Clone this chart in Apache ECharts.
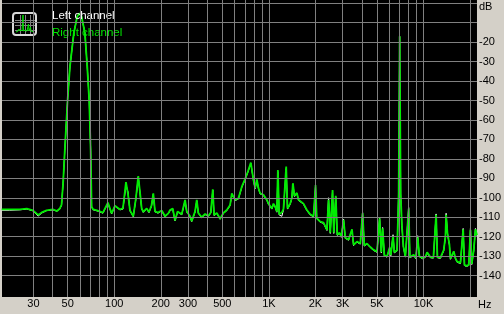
<!DOCTYPE html>
<html><head><meta charset="utf-8">
<script src="https://cdn.jsdelivr.net/npm/echarts@6/dist/echarts.min.js"></script>
<style>html,body{margin:0;padding:0;background:#d4d0c8;}#c{width:504px;height:314px;}</style>
</head><body><div id="c"></div>
<script>
const freqHz = [18.7,21.1,24.5,27.2,29.8,32.2,34.0,36.5,40.1,42.6,44.5,45.6,46.7,47.9,49.9,51.7,54.8,57.6,59.3,61.5,64.6,66.9,68.9,70.4,71.4,73.1,
77.3,84.5,91.0,96.2,101,108.9,113.8,119.1,122.7,126.4,132.8,138.2,143.0,146.7,150.5,154.1,162.1,167.8,174.1,178.9,183.5,191.9,202.8,213.1,223.7,
229.6,238.9,247.2,256.7,273.3,287.1,294.4,309.2,317.1,333.2,341.7,349.9,368.3,386.8,406.3,421.1,433.8,442.3,460.4,483.8,508.2,534.6,561.6,576.0,604.9,635.5,668.5,702.3,731.2,764.6,794.9,815.3,836.2,856.3,878.3,922.6,946.2,970.5,994.0,
1019.5,1045.7,1071.0,1098.4,1126.5,1143.5,1165.8,1213.8,1243.2,1294.2,1319.7,1373.6,1408.8,1430.0,1464.6,1518.0,1554.8,1594.7,1675.2,1762.3,1851.3,1945.0,1980,2003.8,2040,2148.5,2257.5,2374.8,2432.2,2495,2582,2629,2707,2770,2867,2940,
3042,3121,3277,3448,3531,3715,3903,4038,4142,4312,4531,4759,5006,5202,5336,5441,5581,5809,6039,6148,6355,6479,6745,6847,6909,7013,7119,7248,7412,7636,7866,8021,8166,8641,8929,9171,9406,9836,
10287,10551,10806,11084,11590,12066,12303,12866,13515,13862,14006,14280,14714,14934,15688,16090,16504,17336,18049,18402,18959,19620,20125,20519,21135,21680,22180];
const rightDb = [-106,-106,-106,-105.6,-106.5,-108.8,-107.5,-106.5,-106,-106.8,-105.5,-103.7,-92.5,-75.5,-50,-32.6,-15.3,-6.9,-5.2,-6.9,-15.3,-32.6,-50,-75.5,-104.6,-106,
-106.5,-107.6,-102.5,-108,-104.1,-106,-105.5,-92,-98,-106.5,-109.5,-100,-88.8,-97,-105.5,-107.3,-105.5,-107.3,-104,-97.7,-107,-107.6,-106.5,-109.5,-108,
-106.3,-105.5,-111.7,-107,-108.5,-101.1,-107,-109.5,-112,-107,-101.1,-107.8,-110,-108.3,-109.2,-107.6,-95.6,-108.9,-107.8,-110.8,-107.8,-106.3,-103.7,-97.7,-101.1,-100.3,-94.3,-90.3,-86.6,-81.9,-90.8,-95,-90.5,-95,-97.7,-98.5,-97.7,-101,-103,
-103.7,-105.5,-103,-104.5,-107.1,-85.7,-108.5,-107.5,-105.8,-84,-105.5,-103,-100,-92.5,-99,-97.5,-101,-102,-103,-106.3,-108.5,-109.5,-110,-93.5,-110.5,-112.3,-112.8,-116.5,-101,-118,-96,-118,-99,-119,-118,-120,
-111.4,-120.5,-121.5,-116.2,-124.2,-122.5,-123.5,-107.9,-124.5,-123.5,-125.3,-126.8,-127.7,-110.5,-128,-115.7,-129.5,-130.2,-125.5,-129.5,-119.6,-128,-127,-109.7,-97.7,-17,-97.7,-114,-125,-130.2,-130,-105.6,-130.5,-129.3,-131,-120.3,-130,-131,
-130.3,-128,-128.5,-130.5,-130.7,-108.8,-130.5,-130.8,-126.9,-120,-108.8,-118,-124,-131.3,-127.5,-131,-132.8,-133.5,-116.2,-134.5,-135,-134.5,-116.5,-134,-127,-116.2,-119.2];
const leftDb = [-106.4,-106.4,-106.2,-105.8,-106.7,-109.4,-107.8,-106.6,-106.2,-106.9,-105.7,-103.9,-92.5,-75.5,-50,-32.6,-15.3,-6.9,-5.2,-6.9,-15.3,-32.6,-50,-75.5,-104.8,-106.2,
-106.7,-107.9,-102.8,-108.3,-104.3,-106.2,-105.8,-93.5,-97,-106.7,-109.7,-100.5,-89.3,-97.5,-105.7,-107.5,-105.7,-107.6,-104.3,-98.2,-107.2,-107.9,-106.7,-109.8,-108.2,
-106.6,-105.8,-111.9,-107.3,-108.7,-101.5,-107.3,-109.7,-112.2,-107.3,-101.5,-108,-110.2,-108.6,-109.5,-107.9,-96,-109.1,-108,-111,-108,-106.6,-104,-98.2,-101.4,-100.6,-94.6,-90.6,-86.9,-82.3,-91.1,-95.3,-90.8,-95.3,-98,-98.8,-98,-101.3,-103.3,
-104,-105.8,-103.3,-104.8,-107.4,-86.5,-108.8,-109.5,-106.1,-85,-105.8,-103.3,-100.3,-93,-99.3,-97.8,-101.3,-102.3,-103.3,-106.6,-108.8,-109.8,-110.3,-94,-110.8,-112.6,-113.1,-116.8,-100,-118.3,-96.5,-118.3,-99.5,-119.3,-118.3,-120.3,
-111,-120.8,-121.8,-116.5,-124.5,-122.8,-123.8,-107.5,-124.8,-123.8,-125.6,-127.1,-128,-110,-128.3,-115.3,-129.8,-130.5,-125.8,-129.8,-119,-128.3,-127.3,-109,-97,-17,-98,-114.3,-125.3,-130.5,-130.3,-105,-130.8,-129.6,-131.3,-119.5,-130.3,-131.3,
-130.6,-128.3,-128.8,-130.8,-131,-108.3,-130.8,-131.1,-127.2,-120.3,-108,-118.3,-124.3,-131.6,-127.8,-131.3,-133.1,-133.8,-115.8,-134.8,-135.3,-134.8,-115.5,-134.3,-127.3,-115.8,-119.5];

const xTickValues = [30,50,100,200,300,500,1000,2000,3000,5000,10000];
const xTickLabels = ['30','50','100','200','300','500','1K','2K','3K','5K','10K'];
const yTickValues = [-20,-30,-40,-50,-60,-70,-80,-90,-100,-110,-120,-130,-140];
const xGridHz = [30,40,50,60,70,80,90,100,200,300,400,500,600,700,800,900,1000,2000,3000,4000,5000,6000,7000,8000,9000,10000,20000];
const yGridDb = [0,-10,-20,-30,-40,-50,-60,-70,-80,-90,-100,-110,-120,-130,-140];
const seriesNames = ['Left channel','Right channel'];

const FONT = '"Liberation Sans", Arial, sans-serif';
const chart = echarts.init(document.getElementById('c'), null, {renderer:'canvas'});
const pairs = arr => freqHz.map((f,i) => [f, arr[i]]);

chart.setOption({
  animation: false,
  backgroundColor: '#d4d0c8',
  grid: {left: 2, right: 27, top: 0, bottom: 17, show: true, backgroundColor: '#000', borderWidth: 0},
  xAxis: {type: 'log', logBase: 10, min: 18.8, max: 22180,
    axisLine: {show: false}, axisTick: {show: false}, splitLine: {show: false}, minorSplitLine:{show:false},
    axisLabel: {show: true, customValues: xTickValues, margin: 1, color: '#000', fontSize: 11, fontFamily: FONT,
      formatter: v => { const i = xTickValues.findIndex(t => Math.abs(t - v) < 1e-6 * t); return i >= 0 ? xTickLabels[i] : ''; }}},
  yAxis: {type: 'value', position: 'right', min: -151, max: 1.66,
    axisLine: {show: false}, axisTick: {show: false}, splitLine: {show: false},
    axisLabel: {show: true, customValues: yTickValues, margin: 2, color: '#000', fontSize: 11, fontFamily: FONT}},
  legend: {orient: 'vertical', left: 42, top: 5, itemWidth: 0, itemHeight: 0, itemGap: 5, selectedMode: false,
    textStyle: {fontSize: 11.5, fontFamily: FONT},
    data: [{name: seriesNames[0], icon: 'rect', textStyle: {color: '#ffffff'}},
           {name: seriesNames[1], icon: 'rect', textStyle: {color: '#00e600'}}]},
  graphic: [
    {type: 'text', left: 479, top: 1, style: {text: 'dB', fill: '#000', font: '11px ' + FONT}},
    {type: 'text', left: 478, top: 299, style: {text: 'Hz', fill: '#000', font: '11px ' + FONT}},
    {type: 'group', left: 12, top: 12, children: [
      {type: 'rect', shape: {x: 1, y: 1, width: 23, height: 22, r: 3}, style: {fill: '#000', stroke: '#d8d8d8', lineWidth: 2}},
      {type: 'line', shape: {x1: 8.5, y1: 3, x2: 8.5, y2: 22}, style: {stroke: '#808080', lineWidth: 1}},
      {type: 'line', shape: {x1: 13.5, y1: 3, x2: 13.5, y2: 22}, style: {stroke: '#808080', lineWidth: 1}},
      {type: 'line', shape: {x1: 18.5, y1: 3, x2: 18.5, y2: 22}, style: {stroke: '#808080', lineWidth: 1}},
      {type: 'line', shape: {x1: 3, y1: 8.5, x2: 23, y2: 8.5}, style: {stroke: '#808080', lineWidth: 1}},
      {type: 'line', shape: {x1: 3, y1: 13.5, x2: 23, y2: 13.5}, style: {stroke: '#808080', lineWidth: 1}},
      {type: 'line', shape: {x1: 3, y1: 18.5, x2: 23, y2: 18.5}, style: {stroke: '#808080', lineWidth: 1}},
      {type: 'polyline', shape: {points: [[4,20],[6,19],[7,17],[8,19],[9,18],[10,19],[11,3],[11.5,19],[13,18],[14,19],[15,19],[16.5,12],[17,19],[18.5,15],[19,19],[22,20]]},
        style: {stroke: '#00e000', lineWidth: 1, fill: null}}
    ]}
  ],
  series: [
    {name: 'grid', type: 'line', data: [], z: 1, silent: true,
      markLine: {silent: true, symbol: 'none', label: {show: false}, animation: false,
        lineStyle: {color: '#808080', width: 1, type: 'solid'},
        emphasis: {disabled: true},
        data: xGridHz.map(v => ({xAxis: v})).concat(yGridDb.map(v => ({yAxis: v})))}},
    {name: seriesNames[0], type: 'line', data: pairs(leftDb), showSymbol: false, symbol: 'none', z: 2,
      lineStyle: {color: '#ffffff', width: 1}, itemStyle: {color: '#ffffff'}},
    {name: seriesNames[1], type: 'line', data: pairs(rightDb), showSymbol: false, symbol: 'none', z: 3,
      lineStyle: {color: '#00ee00', width: 1.8}, itemStyle: {color: '#00e600'}}
  ]
});
</script></body></html>
